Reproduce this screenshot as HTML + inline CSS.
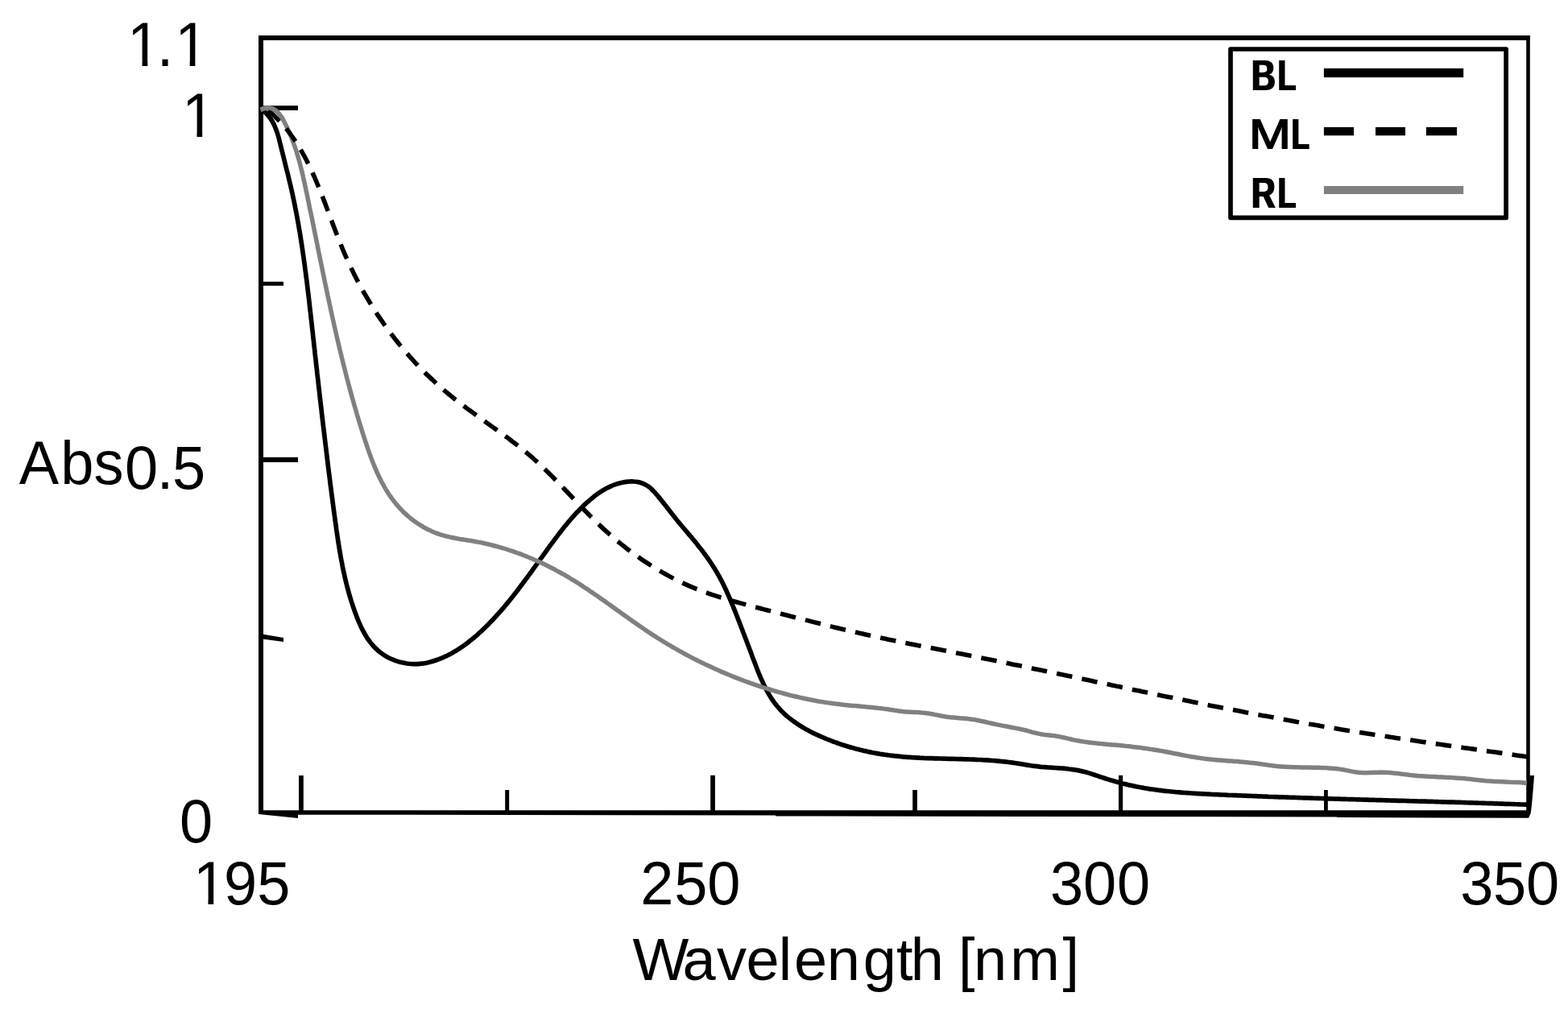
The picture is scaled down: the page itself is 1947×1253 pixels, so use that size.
<!DOCTYPE html>
<html lang="en">
<head>
<meta charset="utf-8">
<title>Absorbance vs Wavelength</title>
<style>
html,body{margin:0;padding:0;background:#fff;}
body{width:1947px;height:1253px;overflow:hidden;}
svg{display:block;}
text{font-family:"Liberation Sans", sans-serif;fill:#000;font-kerning:none;}
.leg{font-weight:bold;}
</style>
</head>
<body>
<svg width="1947" height="1253" viewBox="0 0 1947 1253">
<rect x="0" y="0" width="1947" height="1253" fill="#fff"/>
<!-- plot frame -->
<g fill="#000">
<rect x="321" y="44" width="1579" height="6"/>
<rect x="321" y="44" width="6" height="966.9"/>
<rect x="1895.2" y="44" width="4.6" height="968"/>
<polygon points="321,1006.2 1900,1006.2 1898,1015.8 1660,1015 1660,1014.4 963,1013.5 963,1012.4 370,1011.7 370,1015.9 321,1010.9"/>
<polygon points="1899.7,963 1905,963 1904,976.7 1902.2,997.5 1900.7,1010 1897.9,1015.8 1897,1010"/>
</g>
<!-- y ticks -->
<g fill="#000">
<rect x="326" y="131.2" width="44" height="5.8"/>
<rect x="326" y="349.8" width="26" height="5"/>
<rect x="326" y="567.8" width="44" height="6.2"/>
<polygon points="326,787.5 352,792 352,797 326,793.5"/>
</g>
<!-- x ticks -->
<g fill="#000">
<rect x="371" y="963" width="5.8" height="46"/>
<rect x="627.2" y="981" width="5" height="28"/>
<rect x="882.2" y="962.8" width="5.7" height="46"/>
<rect x="1133.2" y="981" width="5.7" height="28"/>
<rect x="1389" y="962.8" width="5.2" height="46"/>
<rect x="1644" y="981" width="4.8" height="28"/>
</g>
<!-- curves -->
<g fill="none" stroke-linejoin="round">
<path d="M327.0 137.5C327.6 138.1 329.6 139.8 330.8 141.0C332.0 142.3 333.1 143.5 334.1 144.9C335.2 146.2 336.1 147.5 337.0 148.9C337.9 150.3 338.7 151.7 339.4 153.2C340.2 154.7 340.9 156.2 341.5 157.7C342.2 159.2 342.8 160.7 343.3 162.3C343.9 163.8 344.4 165.4 344.9 167.0C345.4 168.6 345.8 170.2 346.3 171.9C346.7 173.5 347.1 175.1 347.5 176.7C348.0 178.4 348.3 180.0 348.7 181.7C349.2 183.3 349.5 184.9 349.9 186.6C350.4 188.2 350.8 189.9 351.2 191.5C351.6 193.1 352.0 194.8 352.4 196.4C352.8 198.0 353.2 199.6 353.6 201.3C354.0 202.9 354.4 204.5 354.8 206.1C355.2 207.8 355.6 209.4 356.0 211.0C356.5 212.6 356.9 214.3 357.3 215.9C357.7 217.5 358.1 219.1 358.4 220.8C358.8 222.4 359.2 224.0 359.6 225.6C360.0 227.3 360.4 228.9 360.8 230.5C361.1 232.1 361.5 233.8 361.9 235.4C362.3 237.0 362.6 238.7 363.0 240.3C363.3 241.9 363.7 243.5 364.0 245.2C364.4 246.8 364.7 248.4 365.1 250.1C365.4 251.7 365.7 253.3 366.1 255.0C366.4 256.6 366.7 258.3 367.0 259.9C367.4 261.5 367.7 263.2 368.0 264.8C368.3 266.5 368.6 268.1 368.9 269.7C369.2 271.4 369.5 273.0 369.8 274.7C370.1 276.3 370.4 278.0 370.7 279.6C371.0 281.3 371.2 282.9 371.5 284.5C371.8 286.2 372.1 287.8 372.4 289.5C372.6 291.1 372.9 292.8 373.2 294.4C373.4 296.1 373.7 297.7 373.9 299.4C374.2 301.0 374.5 302.7 374.7 304.3C375.0 306.0 375.2 307.7 375.5 309.3C375.7 311.0 375.9 312.6 376.2 314.3C376.4 315.9 376.7 317.6 376.9 319.2C377.1 320.9 377.4 322.6 377.6 324.2C377.8 325.9 378.1 327.5 378.3 329.2C378.5 330.8 378.7 332.5 378.9 334.2C379.2 335.8 379.4 337.5 379.6 339.1C379.8 340.8 380.0 342.5 380.2 344.1C380.5 345.8 380.7 347.5 380.9 349.1C381.1 350.8 381.3 352.4 381.5 354.1C381.7 355.8 381.9 357.4 382.1 359.1C382.3 360.8 382.5 362.4 382.7 364.1C382.9 365.7 383.1 367.4 383.3 369.1C383.5 370.7 383.7 372.4 383.9 374.1C384.1 375.7 384.3 377.4 384.4 379.1C384.6 380.7 384.8 382.4 385.0 384.1C385.2 385.7 385.4 387.4 385.6 389.1C385.8 390.7 386.0 392.4 386.1 394.1C386.3 395.7 386.5 397.4 386.7 399.0C386.9 400.7 387.1 402.4 387.3 404.0C387.4 405.7 387.6 407.4 387.8 409.0C388.0 410.7 388.2 412.4 388.4 414.0C388.6 415.7 388.7 417.4 388.9 419.0C389.1 420.7 389.3 422.4 389.5 424.0C389.7 425.7 389.8 427.4 390.0 429.0C390.2 430.7 390.4 432.4 390.6 434.0C390.8 435.7 391.0 437.4 391.1 439.0C391.3 440.7 391.5 442.4 391.7 444.0C391.9 445.7 392.1 447.4 392.3 449.0C392.4 450.7 392.6 452.3 392.8 454.0C393.0 455.7 393.2 457.3 393.4 459.0C393.6 460.7 393.8 462.3 393.9 464.0C394.1 465.7 394.3 467.3 394.5 469.0C394.7 470.7 394.9 472.3 395.1 474.0C395.3 475.6 395.4 477.3 395.6 479.0C395.8 480.6 396.0 482.3 396.2 484.0C396.4 485.6 396.6 487.3 396.8 489.0C397.0 490.6 397.1 492.3 397.3 493.9C397.5 495.6 397.7 497.3 397.9 498.9C398.1 500.6 398.3 502.3 398.5 503.9C398.7 505.6 398.9 507.3 399.1 508.9C399.2 510.6 399.4 512.2 399.6 513.9C399.8 515.6 400.0 517.2 400.2 518.9C400.4 520.6 400.6 522.2 400.8 523.9C401.0 525.5 401.2 527.2 401.4 528.9C401.6 530.5 401.8 532.2 402.0 533.8C402.2 535.5 402.4 537.2 402.6 538.8C402.8 540.5 403.0 542.2 403.2 543.8C403.4 545.5 403.6 547.1 403.8 548.8C404.0 550.5 404.2 552.1 404.4 553.8C404.6 555.4 404.8 557.1 405.0 558.8C405.2 560.4 405.4 562.1 405.6 563.7C405.8 565.4 406.0 567.1 406.2 568.7C406.4 570.4 406.6 572.0 406.8 573.7C407.0 575.4 407.2 577.0 407.4 578.7C407.6 580.3 407.8 582.0 408.0 583.7C408.2 585.3 408.4 587.0 408.6 588.6C408.9 590.3 409.1 592.0 409.3 593.6C409.5 595.3 409.7 596.9 409.9 598.6C410.1 600.2 410.3 601.9 410.5 603.6C410.8 605.2 411.0 606.9 411.2 608.5C411.4 610.2 411.6 611.8 411.8 613.5C412.0 615.2 412.3 616.8 412.5 618.5C412.7 620.1 412.9 621.8 413.1 623.4C413.3 625.1 413.6 626.8 413.8 628.4C414.0 630.1 414.2 631.7 414.4 633.4C414.7 635.0 414.9 636.7 415.1 638.4C415.3 640.0 415.6 641.7 415.8 643.3C416.0 645.0 416.2 646.6 416.5 648.3C416.7 649.9 416.9 651.6 417.2 653.3C417.4 654.9 417.6 656.6 417.8 658.2C418.1 659.9 418.3 661.5 418.6 663.2C418.8 664.8 419.0 666.5 419.3 668.1C419.5 669.8 419.8 671.4 420.0 673.1C420.3 674.7 420.6 676.4 420.8 678.0C421.1 679.7 421.4 681.3 421.6 683.0C421.9 684.6 422.2 686.3 422.5 687.9C422.8 689.6 423.0 691.2 423.3 692.8C423.6 694.5 423.9 696.1 424.3 697.8C424.6 699.4 424.9 701.0 425.2 702.7C425.5 704.3 425.9 706.0 426.2 707.6C426.5 709.2 426.9 710.9 427.3 712.5C427.6 714.1 428.0 715.8 428.4 717.4C428.7 719.0 429.1 720.6 429.5 722.3C429.9 723.9 430.3 725.5 430.7 727.1C431.1 728.8 431.6 730.4 432.0 732.0C432.4 733.6 432.9 735.2 433.3 736.9C433.8 738.5 434.3 740.1 434.7 741.7C435.2 743.3 435.7 744.9 436.2 746.5C436.7 748.1 437.2 749.7 437.8 751.3C438.3 752.9 438.8 754.5 439.4 756.1C439.9 757.7 440.5 759.3 441.1 760.9C441.7 762.5 442.3 764.1 442.9 765.7C443.5 767.3 444.1 768.9 444.8 770.4C445.4 772.0 446.1 773.6 446.8 775.1C447.5 776.7 448.2 778.2 448.9 779.7C449.7 781.2 450.4 782.7 451.2 784.2C452.0 785.7 452.8 787.1 453.7 788.6C454.6 790.0 455.4 791.4 456.3 792.8C457.3 794.2 458.2 795.5 459.2 796.8C460.2 798.2 461.2 799.4 462.3 800.7C463.3 801.9 464.4 803.2 465.6 804.3C466.7 805.5 467.9 806.6 469.1 807.7C470.4 808.8 471.6 809.8 473.0 810.8C474.3 811.8 475.7 812.8 477.1 813.7C478.5 814.6 480.0 815.4 481.5 816.2C482.9 817.0 484.5 817.7 486.0 818.4C487.6 819.1 489.2 819.7 490.8 820.3C492.4 820.9 494.1 821.4 495.7 821.9C497.4 822.3 499.0 822.7 500.7 823.1C502.4 823.5 504.1 823.7 505.8 824.0C507.5 824.2 509.2 824.4 510.8 824.5C512.5 824.6 514.2 824.7 515.9 824.7C517.6 824.6 519.2 824.6 520.9 824.4C522.5 824.3 524.2 824.1 525.8 823.9C527.4 823.6 529.1 823.3 530.7 823.0C532.3 822.6 533.9 822.2 535.4 821.8C537.0 821.3 538.6 820.8 540.1 820.3C541.7 819.8 543.2 819.2 544.8 818.7C546.3 818.1 547.8 817.5 549.3 816.8C550.9 816.2 552.4 815.5 553.8 814.8C555.3 814.1 556.8 813.3 558.3 812.6C559.7 811.8 561.2 811.0 562.6 810.2C564.1 809.4 565.5 808.5 566.9 807.7C568.3 806.8 569.7 805.9 571.1 805.0C572.5 804.1 573.9 803.1 575.3 802.2C576.6 801.2 578.0 800.2 579.3 799.2C580.7 798.2 582.0 797.1 583.3 796.1C584.7 795.0 586.0 794.0 587.3 792.9C588.6 791.8 589.9 790.7 591.2 789.6C592.4 788.5 593.7 787.4 595.0 786.2C596.2 785.1 597.5 783.9 598.7 782.8C599.9 781.6 601.2 780.4 602.4 779.2C603.6 778.0 604.8 776.9 606.0 775.7C607.2 774.5 608.3 773.2 609.5 772.0C610.7 770.8 611.8 769.6 613.0 768.4C614.1 767.1 615.3 765.9 616.4 764.7C617.5 763.4 618.7 762.2 619.8 760.9C620.9 759.7 622.0 758.4 623.1 757.1C624.2 755.9 625.3 754.6 626.4 753.3C627.4 752.0 628.5 750.7 629.6 749.5C630.6 748.2 631.7 746.9 632.8 745.6C633.8 744.3 634.9 743.0 635.9 741.7C636.9 740.4 638.0 739.0 639.0 737.7C640.0 736.4 641.0 735.1 642.1 733.8C643.1 732.5 644.1 731.1 645.1 729.8C646.1 728.5 647.1 727.1 648.1 725.8C649.1 724.5 650.1 723.1 651.1 721.8C652.1 720.4 653.1 719.1 654.1 717.8C655.1 716.4 656.1 715.1 657.0 713.7C658.0 712.4 659.0 711.0 660.0 709.7C661.0 708.3 661.9 707.0 662.9 705.6C663.9 704.3 664.9 702.9 665.8 701.6C666.8 700.2 667.8 698.8 668.8 697.5C669.7 696.1 670.7 694.8 671.7 693.4C672.7 692.1 673.6 690.7 674.6 689.4C675.6 688.0 676.6 686.6 677.5 685.3C678.5 683.9 679.5 682.6 680.5 681.2C681.5 679.9 682.4 678.5 683.4 677.2C684.4 675.8 685.4 674.5 686.4 673.2C687.4 671.8 688.4 670.5 689.4 669.1C690.4 667.8 691.4 666.5 692.4 665.1C693.4 663.8 694.4 662.5 695.4 661.2C696.5 659.8 697.5 658.5 698.5 657.2C699.5 655.9 700.6 654.6 701.6 653.3C702.7 652.0 703.8 650.7 704.8 649.4C705.9 648.2 707.0 646.9 708.1 645.6C709.1 644.3 710.2 643.1 711.4 641.8C712.5 640.6 713.6 639.4 714.7 638.1C715.9 636.9 717.0 635.7 718.2 634.5C719.3 633.3 720.5 632.1 721.7 630.9C722.9 629.7 724.1 628.5 725.3 627.3C726.5 626.2 727.7 625.0 729.0 623.9C730.2 622.8 731.5 621.7 732.8 620.6C734.1 619.5 735.4 618.4 736.7 617.4C738.0 616.3 739.3 615.3 740.7 614.3C742.0 613.3 743.4 612.3 744.8 611.4C746.2 610.5 747.6 609.6 749.0 608.7C750.5 607.9 751.9 607.1 753.4 606.3C754.9 605.5 756.4 604.8 757.9 604.1C759.4 603.4 761.0 602.7 762.6 602.1C764.1 601.6 765.7 601.0 767.4 600.5C769.0 600.0 770.6 599.6 772.3 599.2C773.9 598.9 775.6 598.5 777.3 598.3C779.0 598.1 780.7 597.9 782.3 597.9C784.0 597.8 785.7 597.8 787.4 598.0C789.0 598.1 790.7 598.3 792.3 598.6C793.9 599.0 795.5 599.4 797.1 600.0C798.6 600.5 800.2 601.2 801.6 602.0C803.1 602.7 804.4 603.6 805.7 604.6C807.0 605.5 808.2 606.6 809.4 607.7C810.5 608.8 811.6 610.0 812.7 611.2C813.8 612.4 814.9 613.7 816.0 614.9C817.1 616.2 818.1 617.5 819.2 618.8C820.3 620.1 821.4 621.4 822.4 622.8C823.5 624.1 824.6 625.5 825.6 626.8C826.7 628.2 827.7 629.5 828.8 630.9C829.9 632.2 830.9 633.6 832.0 635.0C833.0 636.3 834.1 637.7 835.1 639.0C836.2 640.4 837.2 641.7 838.3 643.1C839.3 644.4 840.4 645.7 841.4 647.0C842.5 648.3 843.5 649.5 844.6 650.8C845.6 652.1 846.7 653.3 847.7 654.5C848.8 655.8 849.8 657.0 850.9 658.2C851.9 659.5 853.0 660.7 854.0 661.9C855.1 663.2 856.1 664.4 857.2 665.7C858.3 666.9 859.3 668.2 860.4 669.5C861.4 670.7 862.5 672.0 863.6 673.3C864.6 674.6 865.7 675.9 866.7 677.3C867.8 678.6 868.8 679.9 869.9 681.3C870.9 682.6 871.9 683.9 873.0 685.3C874.0 686.6 875.0 688.0 876.0 689.4C877.0 690.8 878.0 692.1 879.0 693.5C880.0 694.9 880.9 696.3 881.9 697.7C882.8 699.1 883.8 700.5 884.7 702.0C885.6 703.4 886.5 704.8 887.4 706.2C888.3 707.7 889.2 709.1 890.0 710.6C890.9 712.0 891.7 713.5 892.5 714.9C893.3 716.4 894.1 717.9 894.9 719.3C895.7 720.8 896.4 722.3 897.2 723.8C897.9 725.2 898.7 726.7 899.4 728.2C900.1 729.7 900.8 731.2 901.5 732.7C902.2 734.2 902.9 735.7 903.5 737.3C904.2 738.8 904.9 740.3 905.5 741.8C906.2 743.3 906.8 744.9 907.5 746.4C908.1 747.9 908.8 749.4 909.4 751.0C910.0 752.5 910.6 754.0 911.3 755.6C911.9 757.1 912.5 758.7 913.1 760.2C913.8 761.8 914.4 763.3 915.0 764.9C915.6 766.4 916.2 768.0 916.8 769.5C917.4 771.1 918.0 772.6 918.6 774.2C919.2 775.8 919.8 777.3 920.4 778.9C921.0 780.5 921.6 782.0 922.2 783.6C922.8 785.2 923.4 786.7 924.0 788.3C924.6 789.9 925.2 791.5 925.8 793.0C926.4 794.6 927.0 796.2 927.6 797.8C928.2 799.3 928.8 800.9 929.4 802.5C930.0 804.1 930.6 805.7 931.2 807.2C931.8 808.8 932.4 810.4 933.0 812.0C933.5 813.6 934.1 815.2 934.7 816.8C935.3 818.4 935.9 819.9 936.6 821.5C937.2 823.1 937.8 824.7 938.4 826.3C939.0 827.9 939.6 829.5 940.2 831.1C940.8 832.6 941.5 834.2 942.1 835.8C942.8 837.4 943.4 838.9 944.1 840.5C944.7 842.0 945.4 843.6 946.1 845.1C946.8 846.6 947.5 848.2 948.2 849.7C948.9 851.2 949.7 852.7 950.4 854.2C951.2 855.7 951.9 857.1 952.7 858.6C953.5 860.0 954.3 861.5 955.2 862.9C956.0 864.3 956.9 865.7 957.8 867.1C958.7 868.5 959.6 869.8 960.5 871.1C961.5 872.5 962.5 873.8 963.5 875.1C964.5 876.3 965.5 877.6 966.6 878.8C967.6 880.0 968.7 881.2 969.9 882.4C971.0 883.6 972.2 884.7 973.4 885.9C974.5 887.0 975.8 888.1 977.0 889.2C978.2 890.2 979.5 891.3 980.8 892.3C982.1 893.3 983.4 894.3 984.8 895.3C986.1 896.3 987.5 897.3 988.8 898.2C990.2 899.1 991.6 900.1 993.0 901.0C994.5 901.8 995.9 902.7 997.3 903.6C998.8 904.4 1000.3 905.3 1001.7 906.1C1003.2 906.9 1004.7 907.7 1006.2 908.5C1007.7 909.3 1009.3 910.0 1010.8 910.8C1012.3 911.5 1013.9 912.2 1015.4 912.9C1017.0 913.7 1018.5 914.4 1020.1 915.0C1021.7 915.7 1023.2 916.4 1024.8 917.0C1026.4 917.7 1027.9 918.3 1029.5 918.9C1031.1 919.6 1032.7 920.2 1034.3 920.8C1035.9 921.4 1037.5 921.9 1039.1 922.5C1040.7 923.1 1042.3 923.6 1043.9 924.2C1045.5 924.7 1047.1 925.2 1048.7 925.7C1050.3 926.2 1051.9 926.7 1053.5 927.2C1055.1 927.7 1056.7 928.2 1058.4 928.6C1060.0 929.1 1061.6 929.5 1063.2 930.0C1064.8 930.4 1066.5 930.8 1068.1 931.2C1069.7 931.6 1071.4 932.0 1073.0 932.4C1074.6 932.7 1076.2 933.1 1077.9 933.5C1079.5 933.8 1081.2 934.1 1082.8 934.5C1084.4 934.8 1086.1 935.1 1087.7 935.4C1089.4 935.7 1091.0 936.0 1092.7 936.3C1094.3 936.5 1095.9 936.8 1097.6 937.0C1099.2 937.3 1100.9 937.5 1102.5 937.7C1104.2 938.0 1105.8 938.2 1107.5 938.4C1109.1 938.6 1110.8 938.7 1112.5 938.9C1114.1 939.1 1115.8 939.3 1117.4 939.4C1119.1 939.6 1120.7 939.7 1122.4 939.9C1124.0 940.0 1125.7 940.1 1127.4 940.3C1129.0 940.4 1130.7 940.5 1132.3 940.6C1134.0 940.7 1135.7 940.8 1137.3 940.9C1139.0 941.0 1140.7 941.1 1142.3 941.2C1144.0 941.2 1145.6 941.3 1147.3 941.4C1149.0 941.4 1150.6 941.5 1152.3 941.6C1154.0 941.6 1155.6 941.7 1157.3 941.7C1159.0 941.8 1160.6 941.8 1162.3 941.9C1164.0 941.9 1165.7 942.0 1167.3 942.0C1169.0 942.1 1170.7 942.1 1172.3 942.1C1174.0 942.2 1175.7 942.2 1177.3 942.3C1179.0 942.3 1180.7 942.3 1182.4 942.4C1184.0 942.4 1185.7 942.5 1187.4 942.5C1189.0 942.5 1190.7 942.6 1192.4 942.6C1194.1 942.7 1195.7 942.7 1197.4 942.8C1199.1 942.8 1200.7 942.9 1202.4 942.9C1204.1 943.0 1205.8 943.0 1207.4 943.1C1209.1 943.2 1210.8 943.2 1212.5 943.3C1214.1 943.4 1215.8 943.5 1217.5 943.5C1219.1 943.6 1220.8 943.7 1222.5 943.8C1224.2 943.9 1225.8 944.0 1227.5 944.1C1229.2 944.2 1230.9 944.4 1232.5 944.5C1234.2 944.6 1235.9 944.8 1237.5 944.9C1239.2 945.0 1240.9 945.2 1242.6 945.4C1244.2 945.5 1245.9 945.7 1247.6 945.9C1249.2 946.1 1250.9 946.3 1252.6 946.5C1254.2 946.7 1255.9 946.9 1257.6 947.1C1259.3 947.4 1260.9 947.6 1262.6 947.9C1264.3 948.1 1265.9 948.4 1267.6 948.7C1269.3 948.9 1270.9 949.2 1272.6 949.5C1274.3 949.8 1275.9 950.1 1277.6 950.3C1279.3 950.6 1280.9 950.8 1282.6 951.1C1284.2 951.3 1285.9 951.5 1287.6 951.7C1289.2 951.9 1290.9 952.1 1292.6 952.3C1294.2 952.4 1295.9 952.6 1297.5 952.7C1299.2 952.8 1300.8 952.9 1302.5 953.0C1304.2 953.1 1305.8 953.2 1307.5 953.3C1309.1 953.5 1310.8 953.5 1312.4 953.7C1314.1 953.8 1315.7 953.9 1317.4 954.0C1319.0 954.1 1320.7 954.3 1322.3 954.4C1323.9 954.6 1325.6 954.8 1327.2 955.0C1328.9 955.1 1330.5 955.4 1332.1 955.6C1333.8 955.8 1335.4 956.1 1337.1 956.4C1338.7 956.7 1340.3 957.0 1342.0 957.4C1343.6 957.7 1345.2 958.1 1346.8 958.5C1348.5 958.9 1350.1 959.4 1351.7 959.9C1353.3 960.4 1355.0 960.9 1356.6 961.4C1358.2 962.0 1359.8 962.5 1361.4 963.1C1363.1 963.6 1364.7 964.2 1366.3 964.7C1367.9 965.3 1369.5 965.8 1371.1 966.3C1372.8 966.9 1374.4 967.4 1376.0 967.9C1377.6 968.4 1379.2 968.9 1380.8 969.3C1382.4 969.8 1384.1 970.3 1385.7 970.7C1387.3 971.2 1388.9 971.6 1390.5 972.0C1392.1 972.4 1393.8 972.9 1395.4 973.3C1397.0 973.7 1398.6 974.0 1400.2 974.4C1401.8 974.8 1403.5 975.2 1405.1 975.5C1406.7 975.9 1408.3 976.2 1410.0 976.6C1411.6 976.9 1413.2 977.2 1414.8 977.5C1416.5 977.8 1418.1 978.1 1419.7 978.4C1421.4 978.7 1423.0 979.0 1424.6 979.2C1426.3 979.5 1427.9 979.8 1429.5 980.0C1431.2 980.3 1432.8 980.5 1434.5 980.7C1436.1 980.9 1437.8 981.2 1439.4 981.4C1441.0 981.6 1442.7 981.8 1444.3 982.0C1446.0 982.2 1447.6 982.4 1449.3 982.5C1450.9 982.7 1452.6 982.9 1454.3 983.0C1455.9 983.2 1457.6 983.4 1459.2 983.5C1460.9 983.7 1462.5 983.8 1464.2 983.9C1465.9 984.1 1467.5 984.2 1469.2 984.3C1470.8 984.4 1472.5 984.6 1474.2 984.7C1475.8 984.8 1477.5 984.9 1479.2 985.0C1480.8 985.1 1482.5 985.2 1484.2 985.3C1485.8 985.4 1487.5 985.5 1489.2 985.6C1490.8 985.7 1492.5 985.8 1494.2 985.9C1495.9 986.0 1497.5 986.0 1499.2 986.1C1500.9 986.2 1502.6 986.3 1504.2 986.4C1505.9 986.4 1507.6 986.5 1509.3 986.6C1510.9 986.7 1512.6 986.7 1514.3 986.8C1516.0 986.9 1517.7 987.0 1519.3 987.0C1521.0 987.1 1522.7 987.2 1524.4 987.3C1526.1 987.3 1527.7 987.4 1529.4 987.5C1531.1 987.6 1532.8 987.6 1534.5 987.7C1536.1 987.8 1537.8 987.8 1539.5 987.9C1541.2 988.0 1542.9 988.0 1544.6 988.1C1546.2 988.2 1547.9 988.2 1549.6 988.3C1551.3 988.4 1553.0 988.4 1554.7 988.5C1556.3 988.6 1558.0 988.6 1559.7 988.7C1561.4 988.8 1563.1 988.8 1564.8 988.9C1566.5 989.0 1568.1 989.0 1569.8 989.1C1571.5 989.2 1573.2 989.2 1574.9 989.3C1576.6 989.3 1578.2 989.4 1579.9 989.5C1581.6 989.5 1583.3 989.6 1585.0 989.6C1586.7 989.7 1588.3 989.8 1590.0 989.8C1591.7 989.9 1593.4 989.9 1595.1 990.0C1596.8 990.1 1598.4 990.1 1600.1 990.2C1601.8 990.2 1603.5 990.3 1605.2 990.4C1606.8 990.4 1608.5 990.5 1610.2 990.5C1611.9 990.6 1613.6 990.6 1615.2 990.7C1616.9 990.7 1618.6 990.8 1620.3 990.9C1622.0 990.9 1623.6 991.0 1625.3 991.0C1627.0 991.1 1628.7 991.1 1630.3 991.2C1632.0 991.2 1633.7 991.3 1635.4 991.3C1637.0 991.4 1638.7 991.4 1640.4 991.5C1642.1 991.5 1643.7 991.6 1645.4 991.7C1647.1 991.7 1648.7 991.8 1650.4 991.8C1652.1 991.9 1653.8 991.9 1655.4 992.0C1657.1 992.0 1658.8 992.1 1660.4 992.1C1662.1 992.2 1663.8 992.2 1665.5 992.3C1667.1 992.3 1668.8 992.4 1670.5 992.4C1672.1 992.5 1673.8 992.5 1675.5 992.6C1677.1 992.6 1678.8 992.7 1680.5 992.7C1682.1 992.7 1683.8 992.8 1685.5 992.8C1687.1 992.9 1688.8 992.9 1690.5 993.0C1692.2 993.0 1693.8 993.1 1695.5 993.1C1697.2 993.2 1698.8 993.2 1700.5 993.3C1702.2 993.3 1703.8 993.4 1705.5 993.4C1707.1 993.5 1708.8 993.5 1710.5 993.6C1712.1 993.6 1713.8 993.7 1715.5 993.7C1717.1 993.7 1718.8 993.8 1720.5 993.8C1722.1 993.9 1723.8 993.9 1725.5 994.0C1727.1 994.0 1728.8 994.1 1730.5 994.1C1732.1 994.2 1733.8 994.2 1735.5 994.3C1737.1 994.3 1738.8 994.4 1740.5 994.4C1742.1 994.4 1743.8 994.5 1745.5 994.5C1747.1 994.6 1748.8 994.6 1750.4 994.7C1752.1 994.7 1753.8 994.8 1755.4 994.8C1757.1 994.9 1758.8 994.9 1760.4 995.0C1762.1 995.0 1763.8 995.1 1765.4 995.1C1767.1 995.1 1768.8 995.2 1770.4 995.2C1772.1 995.3 1773.8 995.3 1775.4 995.4C1777.1 995.4 1778.8 995.5 1780.4 995.5C1782.1 995.6 1783.8 995.6 1785.4 995.7C1787.1 995.7 1788.8 995.8 1790.4 995.8C1792.1 995.9 1793.8 995.9 1795.4 996.0C1797.1 996.0 1798.8 996.1 1800.4 996.1C1802.1 996.2 1803.8 996.2 1805.4 996.2C1807.1 996.3 1808.8 996.3 1810.5 996.4C1812.1 996.4 1813.8 996.5 1815.5 996.5C1817.1 996.6 1818.8 996.6 1820.5 996.7C1822.1 996.7 1823.8 996.8 1825.5 996.9C1827.2 996.9 1828.8 997.0 1830.5 997.0C1832.2 997.1 1833.9 997.1 1835.5 997.2C1837.2 997.2 1838.9 997.3 1840.6 997.3C1842.2 997.4 1843.9 997.4 1845.6 997.5C1847.3 997.5 1848.9 997.6 1850.6 997.6C1852.3 997.7 1854.0 997.7 1855.6 997.8C1857.3 997.9 1859.0 997.9 1860.7 998.0C1862.3 998.0 1864.0 998.1 1865.7 998.1C1867.4 998.2 1869.1 998.3 1870.7 998.3C1872.4 998.4 1874.1 998.4 1875.8 998.5C1877.5 998.5 1879.2 998.6 1880.8 998.7C1882.5 998.7 1884.2 998.8 1885.9 998.8C1887.6 998.9 1889.3 999.0 1890.9 999.0C1892.6 999.1 1895.2 999.2 1896.0 999.2" stroke="#000" stroke-width="5.7"/>
<path d="M323.7 136.3C324.6 136.0 327.3 134.7 329.0 134.3C330.7 133.9 332.4 133.8 334.0 134.0C335.6 134.1 337.1 134.5 338.5 135.1C339.9 135.7 341.2 136.5 342.4 137.4C343.6 138.3 344.7 139.4 345.8 140.5C346.9 141.7 347.9 143.0 348.8 144.4C349.8 145.8 350.6 147.2 351.5 148.7C352.4 150.2 353.2 151.7 353.9 153.3C354.7 154.8 355.5 156.3 356.2 157.9C357.0 159.4 357.7 161.0 358.4 162.5C359.1 164.1 359.8 165.6 360.4 167.2C361.1 168.8 361.7 170.3 362.3 171.9C363.0 173.5 363.6 175.0 364.1 176.6C364.7 178.2 365.3 179.8 365.8 181.4C366.4 183.0 366.9 184.6 367.4 186.1C368.0 187.7 368.5 189.3 368.9 190.9C369.4 192.5 369.9 194.2 370.4 195.8C370.8 197.4 371.3 199.0 371.7 200.6C372.2 202.2 372.6 203.8 373.0 205.4C373.4 207.1 373.8 208.7 374.2 210.3C374.6 211.9 375.0 213.6 375.4 215.2C375.8 216.8 376.2 218.4 376.5 220.1C376.9 221.7 377.3 223.3 377.6 225.0C378.0 226.6 378.3 228.2 378.7 229.9C379.0 231.5 379.4 233.1 379.7 234.8C380.1 236.4 380.4 238.0 380.8 239.7C381.1 241.3 381.5 242.9 381.8 244.6C382.1 246.2 382.5 247.9 382.8 249.5C383.2 251.1 383.5 252.8 383.8 254.4C384.2 256.0 384.5 257.7 384.8 259.3C385.2 261.0 385.5 262.6 385.9 264.2C386.2 265.9 386.5 267.5 386.9 269.1C387.2 270.8 387.5 272.4 387.9 274.0C388.2 275.7 388.5 277.3 388.9 279.0C389.2 280.6 389.5 282.2 389.9 283.9C390.2 285.5 390.5 287.1 390.9 288.8C391.2 290.4 391.5 292.1 391.9 293.7C392.2 295.3 392.5 297.0 392.9 298.6C393.2 300.2 393.5 301.9 393.9 303.5C394.2 305.2 394.5 306.8 394.8 308.4C395.2 310.1 395.5 311.7 395.8 313.3C396.2 315.0 396.5 316.6 396.8 318.2C397.2 319.9 397.5 321.5 397.8 323.2C398.2 324.8 398.5 326.4 398.9 328.1C399.2 329.7 399.5 331.3 399.9 333.0C400.2 334.6 400.5 336.3 400.9 337.9C401.2 339.5 401.5 341.2 401.9 342.8C402.2 344.4 402.6 346.1 402.9 347.7C403.2 349.3 403.6 351.0 403.9 352.6C404.3 354.2 404.6 355.9 404.9 357.5C405.3 359.2 405.6 360.8 406.0 362.4C406.3 364.1 406.7 365.7 407.0 367.3C407.4 369.0 407.7 370.6 408.1 372.2C408.4 373.9 408.8 375.5 409.1 377.1C409.5 378.8 409.8 380.4 410.2 382.0C410.5 383.7 410.9 385.3 411.2 386.9C411.6 388.6 412.0 390.2 412.3 391.8C412.7 393.5 413.0 395.1 413.4 396.7C413.8 398.4 414.1 400.0 414.5 401.6C414.8 403.3 415.2 404.9 415.6 406.5C416.0 408.1 416.3 409.8 416.7 411.4C417.1 413.0 417.4 414.7 417.8 416.3C418.2 417.9 418.6 419.6 418.9 421.2C419.3 422.8 419.7 424.4 420.1 426.1C420.5 427.7 420.9 429.3 421.2 431.0C421.6 432.6 422.0 434.2 422.4 435.8C422.8 437.5 423.2 439.1 423.6 440.7C424.0 442.4 424.4 444.0 424.8 445.6C425.2 447.2 425.6 448.9 426.0 450.5C426.4 452.1 426.8 453.7 427.2 455.4C427.6 457.0 428.0 458.6 428.4 460.2C428.8 461.9 429.3 463.5 429.7 465.1C430.1 466.7 430.5 468.4 430.9 470.0C431.4 471.6 431.8 473.2 432.2 474.8C432.6 476.5 433.1 478.1 433.5 479.7C433.9 481.3 434.4 482.9 434.8 484.6C435.3 486.2 435.7 487.8 436.1 489.4C436.6 491.0 437.0 492.7 437.5 494.3C437.9 495.9 438.4 497.5 438.8 499.1C439.3 500.8 439.8 502.4 440.2 504.0C440.7 505.6 441.2 507.2 441.6 508.8C442.1 510.5 442.6 512.1 443.0 513.7C443.5 515.3 444.0 516.9 444.5 518.5C445.0 520.1 445.4 521.7 445.9 523.4C446.4 525.0 446.9 526.6 447.4 528.2C447.9 529.8 448.4 531.4 448.9 533.0C449.4 534.6 449.9 536.3 450.4 537.9C450.9 539.5 451.4 541.1 452.0 542.7C452.5 544.3 453.0 545.9 453.5 547.5C454.1 549.1 454.6 550.7 455.1 552.3C455.7 553.9 456.2 555.5 456.7 557.1C457.3 558.7 457.9 560.3 458.4 561.9C459.0 563.5 459.6 565.1 460.1 566.7C460.7 568.2 461.3 569.8 461.9 571.4C462.5 573.0 463.1 574.5 463.7 576.1C464.4 577.6 465.0 579.2 465.7 580.7C466.3 582.3 467.0 583.8 467.6 585.3C468.3 586.8 469.0 588.4 469.7 589.9C470.4 591.4 471.1 592.9 471.9 594.3C472.6 595.8 473.3 597.3 474.1 598.8C474.9 600.2 475.7 601.7 476.5 603.1C477.3 604.5 478.1 606.0 478.9 607.4C479.8 608.8 480.7 610.2 481.5 611.6C482.4 613.0 483.3 614.3 484.2 615.7C485.2 617.0 486.1 618.4 487.1 619.7C488.1 621.0 489.1 622.3 490.1 623.6C491.1 624.9 492.1 626.1 493.2 627.4C494.3 628.7 495.4 629.9 496.5 631.1C497.6 632.3 498.8 633.5 499.9 634.7C501.1 635.9 502.3 637.0 503.5 638.1C504.8 639.3 506.0 640.4 507.3 641.5C508.6 642.6 509.9 643.6 511.2 644.7C512.5 645.7 513.9 646.7 515.3 647.7C516.6 648.7 518.0 649.6 519.4 650.6C520.8 651.5 522.3 652.4 523.7 653.3C525.2 654.1 526.7 655.0 528.1 655.8C529.6 656.6 531.1 657.3 532.6 658.1C534.2 658.8 535.7 659.5 537.2 660.2C538.8 660.9 540.3 661.5 541.9 662.1C543.5 662.7 545.1 663.2 546.7 663.8C548.3 664.3 549.9 664.8 551.5 665.2C553.1 665.7 554.7 666.1 556.4 666.4C558.0 666.8 559.6 667.2 561.3 667.5C562.9 667.9 564.6 668.2 566.2 668.5C567.9 668.8 569.5 669.1 571.2 669.4C572.9 669.6 574.5 669.9 576.2 670.2C577.8 670.4 579.5 670.7 581.2 671.0C582.8 671.2 584.5 671.5 586.2 671.8C587.8 672.1 589.5 672.4 591.2 672.7C592.8 673.0 594.5 673.3 596.1 673.6C597.8 673.9 599.4 674.3 601.1 674.7C602.7 675.0 604.3 675.4 606.0 675.8C607.6 676.2 609.3 676.6 610.9 677.0C612.5 677.4 614.1 677.8 615.8 678.2C617.4 678.7 619.0 679.1 620.6 679.6C622.2 680.1 623.9 680.5 625.5 681.0C627.1 681.5 628.7 682.0 630.3 682.5C631.9 683.0 633.5 683.5 635.1 684.1C636.7 684.6 638.2 685.2 639.8 685.7C641.4 686.3 643.0 686.9 644.6 687.4C646.1 688.0 647.7 688.6 649.3 689.2C650.8 689.8 652.4 690.4 654.0 691.1C655.5 691.7 657.1 692.3 658.6 693.0C660.2 693.6 661.7 694.3 663.2 695.0C664.8 695.6 666.3 696.3 667.8 697.0C669.4 697.7 670.9 698.4 672.4 699.1C673.9 699.8 675.4 700.5 676.9 701.3C678.4 702.0 679.9 702.7 681.4 703.5C682.9 704.2 684.4 705.0 685.9 705.8C687.4 706.5 688.9 707.3 690.3 708.1C691.8 708.9 693.3 709.7 694.7 710.5C696.2 711.3 697.7 712.1 699.1 712.9C700.6 713.8 702.0 714.6 703.4 715.4C704.9 716.3 706.3 717.1 707.7 718.0C709.2 718.9 710.6 719.7 712.0 720.6C713.4 721.5 714.8 722.4 716.2 723.2C717.7 724.1 719.1 725.0 720.5 725.9C721.9 726.8 723.2 727.7 724.6 728.7C726.0 729.6 727.4 730.5 728.8 731.4C730.2 732.3 731.6 733.3 732.9 734.2C734.3 735.1 735.7 736.1 737.1 737.0C738.4 737.9 739.8 738.9 741.2 739.8C742.6 740.8 743.9 741.7 745.3 742.7C746.6 743.7 748.0 744.6 749.4 745.6C750.7 746.5 752.1 747.5 753.4 748.5C754.8 749.4 756.2 750.4 757.5 751.4C758.9 752.3 760.2 753.3 761.6 754.3C762.9 755.3 764.3 756.2 765.6 757.2C767.0 758.2 768.4 759.1 769.7 760.1C771.1 761.1 772.4 762.1 773.8 763.0C775.1 764.0 776.5 765.0 777.9 765.9C779.2 766.9 780.6 767.9 781.9 768.8C783.3 769.8 784.7 770.8 786.0 771.7C787.4 772.7 788.8 773.6 790.1 774.6C791.5 775.6 792.9 776.5 794.3 777.5C795.6 778.4 797.0 779.3 798.4 780.3C799.8 781.2 801.2 782.2 802.5 783.1C803.9 784.0 805.3 785.0 806.7 785.9C808.1 786.8 809.5 787.7 810.9 788.6C812.3 789.5 813.7 790.4 815.1 791.3C816.6 792.2 818.0 793.1 819.4 794.0C820.8 794.9 822.2 795.8 823.7 796.7C825.1 797.5 826.5 798.4 828.0 799.3C829.4 800.1 830.8 801.0 832.3 801.8C833.7 802.7 835.2 803.5 836.6 804.4C838.1 805.2 839.6 806.0 841.0 806.9C842.5 807.7 843.9 808.5 845.4 809.3C846.9 810.1 848.4 811.0 849.8 811.8C851.3 812.6 852.8 813.3 854.3 814.1C855.8 814.9 857.2 815.7 858.7 816.5C860.2 817.3 861.7 818.0 863.2 818.8C864.7 819.6 866.2 820.3 867.7 821.1C869.2 821.8 870.8 822.6 872.3 823.3C873.8 824.0 875.3 824.8 876.8 825.5C878.3 826.2 879.9 826.9 881.4 827.6C882.9 828.3 884.4 829.0 886.0 829.7C887.5 830.4 889.0 831.1 890.6 831.8C892.1 832.5 893.7 833.2 895.2 833.9C896.7 834.5 898.3 835.2 899.8 835.8C901.4 836.5 902.9 837.2 904.5 837.8C906.1 838.4 907.6 839.1 909.2 839.7C910.7 840.3 912.3 841.0 913.9 841.6C915.4 842.2 917.0 842.8 918.6 843.4C920.1 844.0 921.7 844.6 923.3 845.2C924.9 845.8 926.5 846.4 928.0 846.9C929.6 847.5 931.2 848.1 932.8 848.6C934.4 849.2 936.0 849.8 937.6 850.3C939.2 850.8 940.7 851.4 942.3 851.9C943.9 852.5 945.5 853.0 947.1 853.5C948.7 854.0 950.3 854.5 951.9 855.0C953.5 855.5 955.2 856.0 956.8 856.5C958.4 857.0 960.0 857.5 961.6 858.0C963.2 858.4 964.8 858.9 966.4 859.4C968.1 859.8 969.7 860.3 971.3 860.7C972.9 861.2 974.5 861.6 976.2 862.0C977.8 862.4 979.4 862.9 981.0 863.3C982.7 863.7 984.3 864.1 985.9 864.5C987.5 864.9 989.2 865.3 990.8 865.6C992.4 866.0 994.1 866.4 995.7 866.8C997.3 867.1 999.0 867.5 1000.6 867.8C1002.3 868.2 1003.9 868.5 1005.5 868.8C1007.2 869.1 1008.8 869.5 1010.5 869.8C1012.1 870.1 1013.7 870.4 1015.4 870.7C1017.0 871.0 1018.7 871.2 1020.3 871.5C1022.0 871.8 1023.6 872.0 1025.3 872.3C1026.9 872.5 1028.6 872.8 1030.2 873.0C1031.9 873.3 1033.5 873.5 1035.2 873.7C1036.8 873.9 1038.5 874.1 1040.1 874.3C1041.8 874.5 1043.4 874.7 1045.1 874.9C1046.7 875.1 1048.4 875.2 1050.1 875.4C1051.7 875.6 1053.4 875.7 1055.0 875.9C1056.7 876.1 1058.3 876.2 1060.0 876.4C1061.7 876.5 1063.3 876.7 1065.0 876.8C1066.6 877.0 1068.3 877.1 1069.9 877.3C1071.6 877.4 1073.3 877.6 1074.9 877.8C1076.6 877.9 1078.2 878.1 1079.9 878.2C1081.6 878.4 1083.2 878.6 1084.9 878.7C1086.5 878.9 1088.2 879.1 1089.8 879.3C1091.5 879.4 1093.2 879.6 1094.8 879.8C1096.5 880.0 1098.1 880.3 1099.8 880.5C1101.5 880.7 1103.1 880.9 1104.8 881.2C1106.4 881.4 1108.1 881.7 1109.7 881.9C1111.4 882.2 1113.1 882.4 1114.7 882.7C1116.4 882.9 1118.0 883.2 1119.7 883.4C1121.3 883.6 1123.0 883.8 1124.6 883.9C1126.3 884.0 1127.9 884.1 1129.6 884.2C1131.3 884.3 1132.9 884.3 1134.6 884.4C1136.2 884.5 1137.9 884.5 1139.5 884.6C1141.2 884.7 1142.8 884.7 1144.5 884.9C1146.1 885.0 1147.8 885.2 1149.4 885.4C1151.1 885.6 1152.7 885.9 1154.4 886.2C1156.0 886.4 1157.7 886.8 1159.3 887.1C1161.0 887.4 1162.6 887.8 1164.3 888.1C1165.9 888.5 1167.6 888.8 1169.2 889.1C1170.9 889.4 1172.5 889.7 1174.2 890.0C1175.8 890.2 1177.5 890.5 1179.1 890.6C1180.8 890.8 1182.4 891.0 1184.1 891.1C1185.7 891.3 1187.4 891.4 1189.0 891.5C1190.7 891.7 1192.3 891.8 1194.0 891.9C1195.6 892.0 1197.3 892.2 1198.9 892.3C1200.6 892.5 1202.2 892.7 1203.9 892.9C1205.5 893.1 1207.2 893.3 1208.8 893.6C1210.4 893.8 1212.1 894.1 1213.7 894.5C1215.4 894.8 1217.0 895.1 1218.7 895.5C1220.3 895.8 1222.0 896.2 1223.6 896.5C1225.3 896.9 1226.9 897.3 1228.6 897.7C1230.2 898.0 1231.8 898.4 1233.5 898.8C1235.1 899.2 1236.8 899.5 1238.4 899.9C1240.1 900.2 1241.7 900.6 1243.4 900.9C1245.0 901.2 1246.7 901.5 1248.3 901.8C1250.0 902.1 1251.6 902.4 1253.2 902.8C1254.9 903.1 1256.5 903.4 1258.2 903.7C1259.8 904.0 1261.5 904.3 1263.1 904.6C1264.8 905.0 1266.4 905.3 1268.1 905.7C1269.7 906.0 1271.3 906.4 1273.0 906.8C1274.6 907.2 1276.3 907.7 1277.9 908.1C1279.6 908.6 1281.2 909.0 1282.9 909.5C1284.5 909.9 1286.2 910.3 1287.8 910.7C1289.4 911.1 1291.1 911.4 1292.7 911.7C1294.4 912.0 1296.0 912.2 1297.7 912.5C1299.3 912.7 1301.0 912.9 1302.6 913.1C1304.3 913.3 1305.9 913.4 1307.6 913.6C1309.2 913.8 1310.8 914.0 1312.5 914.3C1314.1 914.6 1315.8 914.8 1317.4 915.2C1319.1 915.5 1320.7 915.9 1322.4 916.2C1324.0 916.6 1325.7 917.0 1327.3 917.4C1329.0 917.8 1330.6 918.2 1332.3 918.6C1333.9 918.9 1335.6 919.3 1337.2 919.6C1338.8 919.9 1340.5 920.2 1342.1 920.5C1343.8 920.8 1345.4 921.0 1347.1 921.3C1348.7 921.5 1350.4 921.7 1352.0 921.9C1353.7 922.1 1355.3 922.3 1357.0 922.5C1358.6 922.6 1360.3 922.8 1361.9 923.0C1363.6 923.1 1365.2 923.3 1366.9 923.5C1368.5 923.6 1370.2 923.8 1371.8 923.9C1373.5 924.1 1375.1 924.2 1376.8 924.4C1378.4 924.6 1380.1 924.7 1381.7 924.9C1383.4 925.0 1385.0 925.2 1386.7 925.3C1388.3 925.5 1390.0 925.7 1391.7 925.8C1393.3 926.0 1395.0 926.2 1396.6 926.3C1398.3 926.5 1399.9 926.7 1401.6 926.8C1403.2 927.0 1404.9 927.2 1406.5 927.4C1408.2 927.6 1409.8 927.8 1411.5 928.0C1413.1 928.2 1414.8 928.4 1416.5 928.6C1418.1 928.8 1419.8 929.0 1421.4 929.2C1423.1 929.5 1424.7 929.7 1426.4 930.0C1428.0 930.2 1429.7 930.5 1431.3 930.7C1433.0 931.0 1434.7 931.3 1436.3 931.5C1438.0 931.8 1439.6 932.1 1441.3 932.4C1442.9 932.7 1444.6 933.0 1446.3 933.3C1447.9 933.6 1449.6 934.0 1451.2 934.3C1452.9 934.6 1454.5 934.9 1456.2 935.3C1457.9 935.6 1459.5 935.9 1461.2 936.2C1462.8 936.6 1464.5 936.9 1466.1 937.2C1467.8 937.5 1469.5 937.8 1471.1 938.2C1472.8 938.5 1474.4 938.8 1476.1 939.1C1477.8 939.4 1479.4 939.7 1481.1 939.9C1482.7 940.2 1484.4 940.5 1486.1 940.8C1487.7 941.0 1489.4 941.3 1491.0 941.5C1492.7 941.7 1494.4 942.0 1496.0 942.2C1497.7 942.4 1499.3 942.6 1501.0 942.8C1502.7 942.9 1504.3 943.1 1506.0 943.3C1507.6 943.4 1509.3 943.6 1511.0 943.7C1512.6 943.9 1514.3 944.0 1515.9 944.1C1517.6 944.3 1519.3 944.4 1520.9 944.5C1522.6 944.6 1524.2 944.8 1525.9 944.9C1527.6 945.0 1529.2 945.1 1530.9 945.2C1532.6 945.4 1534.2 945.5 1535.9 945.6C1537.5 945.7 1539.2 945.9 1540.9 946.0C1542.5 946.2 1544.2 946.3 1545.9 946.4C1547.5 946.6 1549.2 946.8 1550.8 946.9C1552.5 947.1 1554.2 947.3 1555.8 947.5C1557.5 947.7 1559.2 947.9 1560.8 948.1C1562.5 948.3 1564.2 948.6 1565.8 948.8C1567.5 949.0 1569.1 949.3 1570.8 949.5C1572.5 949.8 1574.1 950.0 1575.8 950.3C1577.5 950.5 1579.1 950.7 1580.8 950.9C1582.5 951.1 1584.1 951.3 1585.8 951.5C1587.5 951.6 1589.1 951.8 1590.8 951.9C1592.5 952.0 1594.1 952.1 1595.8 952.2C1597.4 952.3 1599.1 952.4 1600.8 952.5C1602.4 952.6 1604.1 952.6 1605.8 952.7C1607.4 952.7 1609.1 952.8 1610.8 952.8C1612.4 952.9 1614.1 952.9 1615.8 952.9C1617.4 953.0 1619.1 953.0 1620.8 953.0C1622.4 953.0 1624.1 953.1 1625.8 953.1C1627.4 953.1 1629.1 953.1 1630.8 953.2C1632.4 953.2 1634.1 953.2 1635.8 953.3C1637.4 953.3 1639.1 953.4 1640.8 953.4C1642.4 953.5 1644.1 953.5 1645.8 953.6C1647.4 953.7 1649.1 953.8 1650.8 953.9C1652.4 954.0 1654.1 954.1 1655.8 954.3C1657.4 954.4 1659.1 954.6 1660.8 954.8C1662.4 955.0 1664.1 955.3 1665.8 955.5C1667.4 955.8 1669.1 956.1 1670.8 956.4C1672.4 956.7 1674.1 957.1 1675.8 957.4C1677.4 957.7 1679.1 958.1 1680.8 958.4C1682.4 958.6 1684.1 958.9 1685.8 959.1C1687.5 959.3 1689.1 959.5 1690.8 959.6C1692.5 959.7 1694.1 959.7 1695.8 959.7C1697.5 959.7 1699.1 959.7 1700.8 959.6C1702.5 959.5 1704.1 959.4 1705.8 959.3C1707.5 959.3 1709.1 959.2 1710.8 959.2C1712.5 959.1 1714.1 959.1 1715.8 959.1C1717.5 959.2 1719.1 959.2 1720.8 959.3C1722.5 959.4 1724.2 959.5 1725.8 959.6C1727.5 959.8 1729.2 959.9 1730.8 960.1C1732.5 960.2 1734.2 960.4 1735.8 960.6C1737.5 960.8 1739.2 961.0 1740.8 961.2C1742.5 961.4 1744.2 961.6 1745.8 961.8C1747.5 962.0 1749.2 962.2 1750.9 962.4C1752.5 962.5 1754.2 962.7 1755.9 962.9C1757.5 963.1 1759.2 963.2 1760.9 963.4C1762.5 963.5 1764.2 963.6 1765.9 963.7C1767.5 963.9 1769.2 964.0 1770.9 964.1C1772.5 964.2 1774.2 964.3 1775.9 964.4C1777.6 964.5 1779.2 964.6 1780.9 964.6C1782.6 964.7 1784.2 964.8 1785.9 964.9C1787.6 965.0 1789.2 965.0 1790.9 965.1C1792.6 965.2 1794.2 965.3 1795.9 965.4C1797.6 965.4 1799.2 965.5 1800.9 965.6C1802.6 965.7 1804.3 965.8 1805.9 965.9C1807.6 966.0 1809.3 966.1 1810.9 966.2C1812.6 966.3 1814.3 966.5 1815.9 966.6C1817.6 966.7 1819.3 966.9 1820.9 967.1C1822.6 967.2 1824.3 967.4 1825.9 967.6C1827.6 967.8 1829.3 968.0 1830.9 968.2C1832.6 968.4 1834.3 968.6 1836.0 968.7C1837.6 968.9 1839.3 969.1 1841.0 969.3C1842.6 969.5 1844.3 969.6 1846.0 969.8C1847.6 969.9 1849.3 970.0 1851.0 970.1C1852.6 970.2 1854.3 970.3 1856.0 970.4C1857.6 970.5 1859.3 970.6 1861.0 970.6C1862.6 970.7 1864.3 970.8 1866.0 970.8C1867.6 970.9 1869.3 970.9 1871.0 971.0C1872.7 971.0 1874.3 971.1 1876.0 971.2C1877.7 971.2 1879.3 971.3 1881.0 971.4C1882.7 971.4 1884.3 971.5 1886.0 971.6C1887.7 971.7 1889.3 971.8 1891.0 971.9C1892.7 972.0 1895.2 972.2 1896.0 972.3" stroke="#808080" stroke-width="5.5"/>
<path d="M332.9 137.0C333.9 137.9 337.0 140.5 339.0 142.3C340.9 144.1 342.8 146.0 344.7 147.9C346.6 149.8 348.4 151.7 350.1 153.7C351.9 155.6 353.6 157.6 355.2 159.6C356.9 161.7 358.5 163.7 360.1 165.8C361.6 167.9 363.1 170.1 364.6 172.2C366.1 174.4 367.6 176.5 369.0 178.8C370.4 181.0 371.7 183.2 373.1 185.5C374.4 187.7 375.7 190.0 377.0 192.3C378.2 194.6 379.5 196.9 380.7 199.3C381.9 201.6 383.1 204.0 384.2 206.4C385.4 208.8 386.5 211.2 387.6 213.6C388.7 216.0 389.8 218.5 390.9 220.9C392.0 223.4 393.0 225.8 394.0 228.3C395.1 230.8 396.1 233.3 397.1 235.8C398.1 238.3 399.1 240.8 400.1 243.3C401.1 245.9 402.0 248.4 403.0 250.9C404.0 253.4 404.9 256.0 405.9 258.5C406.8 261.1 407.8 263.6 408.7 266.2C409.7 268.7 410.6 271.3 411.6 273.8C412.6 276.4 413.5 278.9 414.5 281.5C415.4 284.0 416.4 286.6 417.4 289.1C418.4 291.6 419.3 294.2 420.3 296.7C421.3 299.2 422.4 301.8 423.4 304.3C424.4 306.8 425.4 309.3 426.5 311.8C427.6 314.3 428.6 316.8 429.7 319.2C430.8 321.7 431.9 324.2 433.1 326.6C434.2 329.1 435.4 331.5 436.5 333.9C437.7 336.4 438.9 338.8 440.1 341.2C441.3 343.6 442.5 346.0 443.8 348.4C445.0 350.7 446.3 353.1 447.5 355.5C448.8 357.8 450.1 360.2 451.4 362.5C452.8 364.8 454.1 367.1 455.5 369.4C456.8 371.7 458.2 374.0 459.6 376.3C461.0 378.6 462.4 380.8 463.8 383.1C465.2 385.4 466.7 387.6 468.1 389.8C469.6 392.0 471.1 394.2 472.6 396.4C474.1 398.6 475.6 400.8 477.1 403.0C478.7 405.2 480.2 407.3 481.8 409.4C483.4 411.6 484.9 413.7 486.5 415.8C488.2 417.9 489.8 420.0 491.4 422.1C493.1 424.2 494.7 426.3 496.4 428.3C498.1 430.4 499.8 432.4 501.5 434.4C503.2 436.4 504.9 438.4 506.7 440.4C508.4 442.4 510.2 444.4 512.0 446.4C513.8 448.3 515.6 450.3 517.4 452.2C519.2 454.1 521.0 456.0 522.9 457.9C524.7 459.8 526.6 461.7 528.5 463.6C530.4 465.4 532.3 467.3 534.2 469.1C536.1 470.9 538.1 472.7 540.0 474.5C542.0 476.3 543.9 478.1 545.9 479.9C547.9 481.6 549.9 483.4 552.0 485.1C554.0 486.8 556.0 488.5 558.1 490.2C560.1 491.9 562.2 493.6 564.3 495.3C566.4 496.9 568.5 498.6 570.6 500.2C572.7 501.8 574.9 503.4 577.0 505.1C579.2 506.7 581.3 508.3 583.5 509.8C585.6 511.4 587.8 513.0 590.0 514.6C592.1 516.2 594.3 517.7 596.5 519.3C598.7 520.9 600.9 522.4 603.0 524.0C605.2 525.5 607.4 527.1 609.6 528.7C611.8 530.2 613.9 531.8 616.1 533.4C618.3 534.9 620.5 536.5 622.6 538.1C624.8 539.7 627.0 541.2 629.1 542.8C631.3 544.4 633.4 546.0 635.5 547.7C637.7 549.3 639.8 550.9 641.9 552.5C644.0 554.2 646.1 555.8 648.1 557.5C650.2 559.2 652.3 560.9 654.3 562.6C656.3 564.3 658.4 566.0 660.4 567.7C662.4 569.5 664.3 571.3 666.3 573.0C668.3 574.8 670.2 576.6 672.1 578.4C674.1 580.3 676.0 582.1 677.9 584.0C679.8 585.8 681.6 587.7 683.5 589.5C685.4 591.4 687.3 593.3 689.1 595.2C691.0 597.1 692.8 599.0 694.7 600.9C696.5 602.8 698.3 604.8 700.2 606.7C702.0 608.6 703.8 610.5 705.7 612.5C707.5 614.4 709.3 616.3 711.2 618.3C713.0 620.2 714.8 622.1 716.7 624.1C718.5 626.0 720.4 627.9 722.2 629.9C724.1 631.8 725.9 633.7 727.8 635.6C729.7 637.5 731.6 639.5 733.5 641.4C735.4 643.3 737.3 645.1 739.2 647.0C741.1 648.9 743.1 650.8 745.0 652.6C747.0 654.5 748.9 656.3 750.9 658.2C752.9 660.0 754.9 661.8 757.0 663.6C759.0 665.4 761.1 667.1 763.1 668.9C765.2 670.7 767.3 672.4 769.4 674.1C771.5 675.8 773.6 677.5 775.8 679.2C777.9 680.9 780.1 682.6 782.3 684.2C784.5 685.8 786.6 687.5 788.9 689.1C791.1 690.6 793.3 692.2 795.5 693.8C797.8 695.3 800.0 696.8 802.3 698.3C804.6 699.8 806.9 701.3 809.2 702.8C811.5 704.2 813.8 705.7 816.1 707.1C818.5 708.5 820.8 709.8 823.2 711.2C825.5 712.5 827.9 713.8 830.3 715.1C832.6 716.4 835.0 717.7 837.4 718.9C839.8 720.1 842.2 721.3 844.7 722.5C847.1 723.6 849.5 724.8 852.0 725.9C854.4 727.0 856.9 728.1 859.3 729.1C861.8 730.1 864.3 731.1 866.7 732.1C869.2 733.1 871.7 734.0 874.2 735.0C876.7 735.9 879.2 736.8 881.7 737.6C884.2 738.5 886.7 739.3 889.3 740.2C891.8 741.0 894.3 741.8 896.9 742.5C899.4 743.3 901.9 744.1 904.5 744.8C907.0 745.6 909.6 746.3 912.1 747.0C914.7 747.7 917.2 748.4 919.8 749.1C922.4 749.8 924.9 750.5 927.5 751.2C930.1 751.9 932.6 752.5 935.2 753.2C937.8 753.9 940.3 754.5 942.9 755.2C945.5 755.9 948.1 756.5 950.6 757.2C953.2 757.8 955.8 758.5 958.4 759.2C961.0 759.8 963.5 760.5 966.1 761.2C968.7 761.8 971.3 762.5 973.9 763.2C976.4 763.8 979.0 764.5 981.6 765.2C984.2 765.8 986.8 766.5 989.4 767.2C991.9 767.8 994.5 768.5 997.1 769.2C999.7 769.8 1002.3 770.5 1004.9 771.1C1007.5 771.8 1010.0 772.4 1012.6 773.1C1015.2 773.7 1017.8 774.4 1020.4 775.0C1023.0 775.7 1025.6 776.3 1028.2 777.0C1030.8 777.6 1033.3 778.2 1035.9 778.9C1038.5 779.5 1041.1 780.1 1043.7 780.8C1046.3 781.4 1048.9 782.0 1051.5 782.6C1054.1 783.2 1056.7 783.8 1059.3 784.4C1061.9 785.1 1064.5 785.7 1067.1 786.2C1069.7 786.8 1072.3 787.4 1074.9 788.0C1077.5 788.6 1080.1 789.2 1082.7 789.7C1085.3 790.3 1087.9 790.9 1090.5 791.4C1093.1 792.0 1095.7 792.5 1098.3 793.1C1100.9 793.6 1103.5 794.2 1106.1 794.7C1108.7 795.2 1111.3 795.8 1113.9 796.3C1116.5 796.8 1119.1 797.4 1121.7 797.9C1124.3 798.4 1126.9 798.9 1129.5 799.5C1132.1 800.0 1134.7 800.5 1137.3 801.0C1139.9 801.5 1142.5 802.0 1145.1 802.5C1147.8 803.1 1150.4 803.6 1153.0 804.1C1155.6 804.6 1158.2 805.1 1160.8 805.6C1163.4 806.1 1166.0 806.6 1168.6 807.1C1171.2 807.6 1173.8 808.1 1176.5 808.7C1179.1 809.2 1181.7 809.7 1184.3 810.2C1186.9 810.7 1189.5 811.2 1192.1 811.7C1194.8 812.2 1197.4 812.8 1200.0 813.3C1202.6 813.8 1205.2 814.3 1207.8 814.8C1210.4 815.4 1213.1 815.9 1215.7 816.4C1218.3 816.9 1220.9 817.5 1223.5 818.0C1226.1 818.5 1228.8 819.0 1231.4 819.6C1234.0 820.1 1236.6 820.6 1239.2 821.2C1241.9 821.7 1244.5 822.3 1247.1 822.8C1249.7 823.3 1252.3 823.9 1255.0 824.4C1257.6 825.0 1260.2 825.5 1262.8 826.0C1265.4 826.6 1268.1 827.1 1270.7 827.7C1273.3 828.2 1275.9 828.8 1278.6 829.3C1281.2 829.9 1283.8 830.4 1286.4 831.0C1289.0 831.5 1291.7 832.1 1294.3 832.6C1296.9 833.2 1299.5 833.7 1302.2 834.3C1304.8 834.8 1307.4 835.4 1310.1 835.9C1312.7 836.5 1315.3 837.0 1317.9 837.6C1320.6 838.1 1323.2 838.7 1325.8 839.3C1328.4 839.8 1331.1 840.4 1333.7 840.9C1336.3 841.5 1339.0 842.0 1341.6 842.6C1344.2 843.2 1346.8 843.7 1349.5 844.3C1352.1 844.8 1354.7 845.4 1357.4 845.9C1360.0 846.5 1362.6 847.1 1365.3 847.6C1367.9 848.2 1370.5 848.7 1373.1 849.3C1375.8 849.8 1378.4 850.4 1381.0 851.0C1383.7 851.5 1386.3 852.1 1388.9 852.6C1391.6 853.2 1394.2 853.7 1396.8 854.3C1399.5 854.8 1402.1 855.4 1404.7 855.9C1407.4 856.5 1410.0 857.0 1412.6 857.6C1415.3 858.1 1417.9 858.7 1420.5 859.2C1423.2 859.8 1425.8 860.3 1428.5 860.9C1431.1 861.4 1433.7 862.0 1436.4 862.5C1439.0 863.1 1441.6 863.6 1444.3 864.2C1446.9 864.7 1449.5 865.2 1452.2 865.8C1454.8 866.3 1457.5 866.9 1460.1 867.4C1462.7 867.9 1465.4 868.5 1468.0 869.0C1470.6 869.5 1473.3 870.1 1475.9 870.6C1478.6 871.2 1481.2 871.7 1483.8 872.2C1486.5 872.7 1489.1 873.3 1491.7 873.8C1494.4 874.3 1497.0 874.9 1499.7 875.4C1502.3 875.9 1504.9 876.4 1507.6 877.0C1510.2 877.5 1512.9 878.0 1515.5 878.5C1518.1 879.0 1520.8 879.5 1523.4 880.1C1526.1 880.6 1528.7 881.1 1531.3 881.6C1534.0 882.1 1536.6 882.6 1539.3 883.1C1541.9 883.6 1544.5 884.1 1547.2 884.7C1549.8 885.2 1552.5 885.7 1555.1 886.2C1557.8 886.7 1560.4 887.2 1563.0 887.7C1565.7 888.2 1568.3 888.6 1571.0 889.1C1573.6 889.6 1576.2 890.1 1578.9 890.6C1581.5 891.1 1584.2 891.6 1586.8 892.1C1589.5 892.6 1592.1 893.0 1594.7 893.5C1597.4 894.0 1600.0 894.5 1602.7 894.9C1605.3 895.4 1608.0 895.9 1610.6 896.4C1613.2 896.8 1615.9 897.3 1618.5 897.8C1621.2 898.2 1623.8 898.7 1626.5 899.2C1629.1 899.6 1631.7 900.1 1634.4 900.5C1637.0 901.0 1639.7 901.4 1642.3 901.9C1645.0 902.3 1647.6 902.8 1650.3 903.2C1652.9 903.7 1655.5 904.1 1658.2 904.6C1660.8 905.0 1663.5 905.4 1666.1 905.9C1668.8 906.3 1671.4 906.7 1674.0 907.2C1676.7 907.6 1679.3 908.0 1682.0 908.4C1684.6 908.9 1687.3 909.3 1689.9 909.7C1692.6 910.1 1695.2 910.5 1697.8 910.9C1700.5 911.4 1703.1 911.8 1705.8 912.2C1708.4 912.6 1711.1 913.0 1713.7 913.4C1716.3 913.8 1719.0 914.2 1721.6 914.6C1724.3 915.0 1726.9 915.4 1729.6 915.8C1732.2 916.2 1734.9 916.6 1737.5 917.0C1740.1 917.4 1742.8 917.8 1745.4 918.2C1748.1 918.6 1750.7 918.9 1753.4 919.3C1756.0 919.7 1758.6 920.1 1761.3 920.5C1763.9 920.9 1766.6 921.3 1769.2 921.6C1771.9 922.0 1774.5 922.4 1777.1 922.8C1779.8 923.2 1782.4 923.6 1785.1 923.9C1787.7 924.3 1790.4 924.7 1793.0 925.1C1795.6 925.4 1798.3 925.8 1800.9 926.2C1803.6 926.6 1806.2 927.0 1808.9 927.3C1811.5 927.7 1814.1 928.1 1816.8 928.5C1819.4 928.8 1822.1 929.2 1824.7 929.6C1827.3 930.0 1830.0 930.3 1832.6 930.7C1835.3 931.1 1837.9 931.5 1840.6 931.8C1843.2 932.2 1845.8 932.6 1848.5 933.0C1851.1 933.3 1853.8 933.7 1856.4 934.1C1859.0 934.5 1861.7 934.8 1864.3 935.2C1867.0 935.6 1869.6 936.0 1872.2 936.4C1874.9 936.7 1877.5 937.1 1880.2 937.5C1882.8 937.9 1885.4 938.3 1888.1 938.6C1890.7 939.0 1894.7 939.6 1896.0 939.8" stroke="#000" stroke-width="5.6" stroke-dasharray="19.6 12.32" stroke-dashoffset="0"/>
<path d="M323.7 136.3C324.6 136.0 327.3 134.7 329.0 134.3C330.7 133.9 332.4 133.8 334.0 134.0C335.6 134.1 337.1 134.5 338.5 135.1C339.9 135.7 341.2 136.5 342.4 137.4C343.6 138.3 344.7 139.4 345.8 140.5C346.9 141.7 347.9 143.0 348.8 144.4C349.8 145.8 351.1 148.0 351.5 148.7" stroke="#808080" stroke-width="5.5"/>
</g>
<!-- legend -->
<rect x="1528" y="61" width="342.1" height="209.3" fill="#fff" stroke="#000" stroke-width="5.7" stroke-linejoin="round"/>
<rect x="1643.9" y="84.9" width="173.3" height="11.2" fill="#000"/>
<g fill="#000">
<rect x="1643.9" y="157.9" width="37.1" height="10.4"/>
<rect x="1708" y="157.9" width="37" height="10.4"/>
<rect x="1770.9" y="157.9" width="38.1" height="10.4"/>
</g>
<rect x="1643.9" y="231" width="173.3" height="10" fill="#808080"/>
<defs><filter id="thick" x="-10%" y="-10%" width="120%" height="120%"><feMorphology operator="dilate" radius="1 0"/></filter></defs>
<text class="leg" y="112.00" font-size="53.6" filter="url(#thick)"><tspan x="1554.04" textLength="29.84" lengthAdjust="spacingAndGlyphs">B</tspan><tspan x="1586.65" textLength="22.38" lengthAdjust="spacingAndGlyphs">L</tspan></text>
<text class="leg" y="185.10" font-size="53.6" filter="url(#thick)"><tspan x="1550.99" textLength="51.93" lengthAdjust="spacingAndGlyphs" font-weight="normal">M</tspan><tspan x="1603.79" textLength="22.02" lengthAdjust="spacingAndGlyphs">L</tspan></text>
<text class="leg" y="258.00" font-size="53.6" filter="url(#thick)"><tspan x="1554.05" textLength="29.69" lengthAdjust="spacingAndGlyphs">R</tspan><tspan x="1586.65" textLength="22.38" lengthAdjust="spacingAndGlyphs">L</tspan></text>
<!-- axis labels -->
<g transform="translate(0 82.10) scale(1 1.0450)"><text class="lab" x="158.05 194.77 217.15" y="0" font-size="74">1.1</text></g><rect x="162.39" y="75.62" width="14.17" height="7.58" fill="#fff"/><rect x="183.30" y="75.62" width="13.88" height="7.58" fill="#fff"/><rect x="221.49" y="75.62" width="14.17" height="7.58" fill="#fff"/><rect x="242.40" y="75.62" width="13.88" height="7.58" fill="#fff"/>
<g transform="translate(0 170.20) scale(1 1.0450)"><text class="lab" x="225.95" y="0" font-size="74">1</text></g><rect x="230.29" y="163.72" width="14.17" height="7.58" fill="#fff"/><rect x="251.20" y="163.72" width="13.88" height="7.58" fill="#fff"/>
<g transform="translate(0 601.00) scale(1 1.0200)"><text class="lab" x="23.87 75.19 116.41" y="0" font-size="74">Abs</text></g>
<g transform="translate(0 606.80) scale(1 1.0320)"><text class="lab" x="155.12 194.77 213.89" y="0" font-size="74">0.5</text></g>
<g transform="translate(0 1046.00) scale(1 1.0320)"><text class="lab" x="223.07" y="0" font-size="74">0</text></g>
<g transform="translate(0 1123.30) scale(1 1.0320)"><text class="lab" x="239.95 277.89 319.24" y="0" font-size="74">195</text></g><rect x="244.29" y="1116.89" width="14.17" height="7.51" fill="#fff"/><rect x="265.20" y="1116.89" width="13.88" height="7.51" fill="#fff"/>
<g transform="translate(0 1123.30) scale(1 1.0320)"><text class="lab" x="795.22 837.14 878.22" y="0" font-size="74">250</text></g>
<g transform="translate(0 1123.30) scale(1 1.0320)"><text class="lab" x="1304.09 1344.97 1386.92" y="0" font-size="74">300</text></g>
<g transform="translate(0 1123.30) scale(1 1.0320)"><text class="lab" x="1813.14 1853.94 1895.02" y="0" font-size="74">350</text></g>
<g transform="translate(0 1216.80) scale(1 1.0100)"><text class="lab" x="785.59 847.40 890.05 926.39 966.81 986.09 1026.87 1071.80 1112.93 1130.76 1171.92 1189.92 1208.92 1254.26 1319.57" y="0" font-size="74">Wavelength [nm]</text></g>
</svg>
</body>
</html>
